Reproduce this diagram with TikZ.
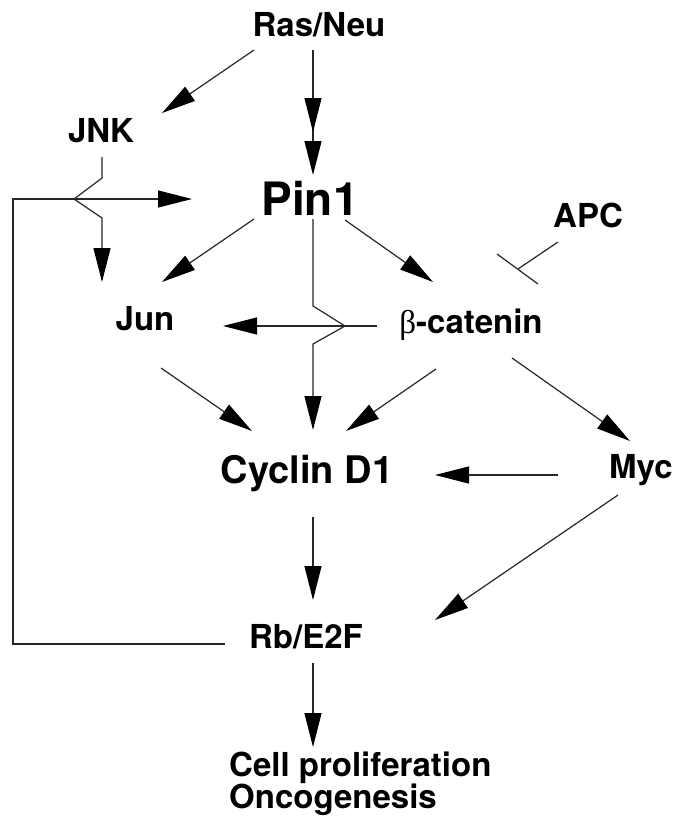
\documentclass[tikz,border=0pt]{standalone}
\usepackage{fontspec}
\setmainfont{TeX Gyre Heros}
\newfontfamily\greekfont{Liberation Serif}
\usetikzlibrary{arrows.meta}
\tikzset{
  lbl/.style={inner sep=0pt, anchor=base, font=\fontsize{33}{36}\selectfont\bfseries},
  big/.style={lbl, font=\fontsize{38}{42}\selectfont\bfseries},
  huge/.style={lbl, font=\fontsize{46}{50}\selectfont\bfseries},
  conn/.style={line width=1.2pt, black!85},
  arr/.style={conn, -{Triangle[length=34pt,width=17pt,fill=black,color=black]}},
}
\begin{document}
\begin{tikzpicture}[x=1pt,y=-1pt]
\useasboundingbox (0,0) rectangle (676,816);
% labels
\node[lbl] (ras) at (319,37) {Ras/Neu};
\node[lbl] (jnk) at (101,142) {JNK};
\node[huge] (pin) at (310,215) {Pin1};
\node[lbl] (apc) at (588,227) {APC};
\node[lbl] (jun) at (145,330) {Jun};
\node[lbl] (bcat) at (471,333) {{\greekfont\mdseries β}-catenin};
\node[big] (cyc) at (307,483) {Cyclin D1};
\node[lbl] (myc) at (641,478) {Myc};
\node[lbl] (rb) at (306,648) {Rb/E2F};
\node[lbl, anchor=base west] (cell) at (229,776) {Cell proliferation};
\node[lbl, anchor=base west] (onco) at (229,808) {Oncogenesis};
% endpoint coordinates
\coordinate (rasA) at (254,50);
\coordinate (jnkT) at (162,113);
\coordinate (rasB) at (313,50);
\coordinate (pinT) at (313,175);
\coordinate (pinT2) at (313,132);
\coordinate (j1) at (102,157);
\coordinate (j2) at (102,178);
\coordinate (jx) at (74,199);
\coordinate (j3) at (102,218);
\coordinate (junT1) at (102,282);
\coordinate (fb0) at (225,644);
\coordinate (fb1) at (13,644);
\coordinate (fb2) at (13,199);
\coordinate (fbT) at (192,199);
\coordinate (p1) at (254,219);
\coordinate (junT2) at (162,282);
\coordinate (p2) at (345,220);
\coordinate (bcT) at (433,282);
\coordinate (p3) at (313,219);
\coordinate (p3a) at (313,306);
\coordinate (p3x) at (345,326);
\coordinate (p3b) at (313,344);
\coordinate (cycT1) at (313,430);
\coordinate (b1) at (377,326);
\coordinate (junT3) at (223,326);
\coordinate (apc1) at (558,242);
\coordinate (apc2) at (518,269);
\coordinate (bar1) at (497,254);
\coordinate (bar2) at (538,284);
\coordinate (jn1) at (161,368);
\coordinate (cycT2) at (252,431);
\coordinate (b2) at (436,369);
\coordinate (cycT3) at (346,431);
\coordinate (b3) at (512,358);
\coordinate (mycT) at (630,441);
\coordinate (m1) at (558,475);
\coordinate (cycT4) at (435,475);
\coordinate (c1) at (313,517);
\coordinate (rbT1) at (313,600);
\coordinate (m2) at (618,495);
\coordinate (rbT2) at (435,620);
\coordinate (r1) at (313,663);
\coordinate (cellT) at (313,747);
% connectors
\draw[arr] (rasA) -- (jnkT);
\draw[arr] (rasB) -- (pinT);
\draw[arr] (rasB) -- (pinT2);
\draw[arr] (j1) -- (j2) -- (jx) -- (j3) -- (junT1);
\draw[arr] (fb0) -- (fb1) -- (fb2) -- (fbT);
\draw[arr] (p1) -- (junT2);
\draw[arr] (p2) -- (bcT);
\draw[arr] (p3) -- (p3a) -- (p3x) -- (p3b) -- (cycT1);
\draw[arr] (b1) -- (junT3);
\draw[conn] (apc1) -- (apc2);
\draw[conn] (bar1) -- (bar2);
\draw[arr] (jn1) -- (cycT2);
\draw[arr] (b2) -- (cycT3);
\draw[arr] (b3) -- (mycT);
\draw[arr] (m1) -- (cycT4);
\draw[arr] (c1) -- (rbT1);
\draw[arr] (m2) -- (rbT2);
\draw[arr] (r1) -- (cellT);
\end{tikzpicture}
\end{document}
